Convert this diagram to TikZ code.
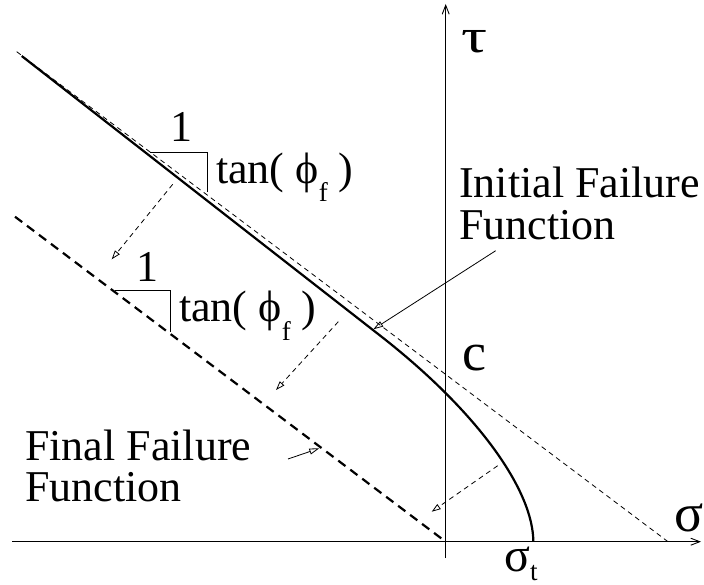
\documentclass[tikz,border=0pt]{standalone}
\usepackage{fontspec}
\usepackage{graphicx}
\setmainfont{Liberation Serif}
\usetikzlibrary{arrows.meta}
\begin{document}
\begin{tikzpicture}[x=1pt,y=-1pt,
  lbl/.style={font=\fontsize{44}{44}\selectfont, inner sep=0pt, anchor=base west},
  big/.style={font=\fontsize{54}{54}\selectfont, inner sep=0pt, anchor=base west},
  axisline/.style={line width=0.9pt, -{Straight Barb[length=9pt,width=7pt]}},
  thindash/.style={line width=0.8pt, dash pattern=on 5pt off 4pt},
  thickdash/.style={line width=2.2pt, dash pattern=on 9pt off 6pt},
  curveline/.style={line width=2.2pt},
  slopebox/.style={line width=0.8pt},
  ptr/.style={line width=0.8pt, -{Triangle[open,length=10pt,width=6pt]}},
  dptr/.style={line width=0.8pt, dash pattern=on 5pt off 4pt, -{Triangle[open,length=9pt,width=6pt]}}
]
\useasboundingbox (0,0) rectangle (704,585);

% axes
\coordinate (xs) at (12,541.7);
\coordinate (xe) at (701,541.7);
\coordinate (ys) at (445.7,558);
\coordinate (ye) at (445.7,4);
\draw[axisline] (xs) -- (xe);
\draw[axisline] (ys) -- (ye);

% initial asymptote (thin dashed)
\coordinate (ia) at (16.7,51.7);
\coordinate (ib) at (668,541.7);
\draw[thindash] (ia) -- (ib);

% final failure function (thick dashed)
\coordinate (fa) at (15,216.7);
\coordinate (fb) at (445.7,541.7);
\draw[thickdash] (fa) -- (fb);

% initial failure function (solid curve)
\coordinate (ca) at (21.7,56);
\coordinate (cb) at (380,335.5);
\coordinate (cc) at (533.3,541.7);
\draw[curveline] (ca) -- (cb) .. controls (480,413.5) and (533.3,491.7) .. (cc);

% slope triangles
\coordinate (t1a) at (150,152);
\coordinate (t1b) at (207,152);
\coordinate (t1c) at (207,192);
\draw[slopebox] (t1a) -- (t1b) -- (t1c);
\coordinate (t2a) at (115,290.7);
\coordinate (t2b) at (170.7,290.7);
\coordinate (t2c) at (170.7,331.7);
\draw[slopebox] (t2a) -- (t2b) -- (t2c);

\node[lbl, anchor=base] (one1) at (181.5,142) {1};
\node[lbl] (tan1) at (216,184) {tan( ϕ\raisebox{-18pt}{\fontsize{27}{27}\selectfont f} )};
\node[lbl, anchor=base] (one2) at (147,282) {1};
\node[lbl] (tan2) at (179,322) {tan( ϕ\raisebox{-18pt}{\fontsize{27}{27}\selectfont f} )};

% axis labels
\node[inner sep=0pt, anchor=base west] (tau) at (461,53)
  {\fontsize{48}{48}\selectfont\scalebox{1.35}[1]{τ}};
\node[big] (cc0) at (462,370) {c};
\node[big] (sig) at (674,531.7) {σ};
\node[inner sep=0pt, anchor=base west] (sigt) at (504,571.5)
  {\fontsize{48}{48}\selectfont σ\raisebox{-8.5pt}{\fontsize{27}{27}\selectfont t}};

% labels
\node[lbl] (ini1) at (459,198) {Initial Failure};
\node[lbl] (ini2) at (459,240) {Function};
\node[lbl] (fin1) at (25,460) {Final Failure};
\node[lbl] (fin2) at (25,501) {Function};

% pointers
\coordinate (ip0) at (495.7,250.7);
\coordinate (ip1) at (373.3,329.3);
\draw[ptr] (ip0) -- (ip1);
\coordinate (fp0) at (288,459);
\coordinate (fp1) at (319.3,448.3);
\draw[ptr] (fp0) -- (fp1);

% dashed shift arrows
\coordinate (d1a) at (172.7,184.3);
\coordinate (d1b) at (111.7,259.3);
\draw[dptr] (d1a) -- (d1b);
\coordinate (d2a) at (338.3,321.7);
\coordinate (d2b) at (276,390);
\draw[dptr] (d2a) -- (d2b);
\coordinate (d3a) at (497.7,465.7);
\coordinate (d3b) at (431.7,511.7);
\draw[dptr] (d3a) -- (d3b);
\end{tikzpicture}
\end{document}
